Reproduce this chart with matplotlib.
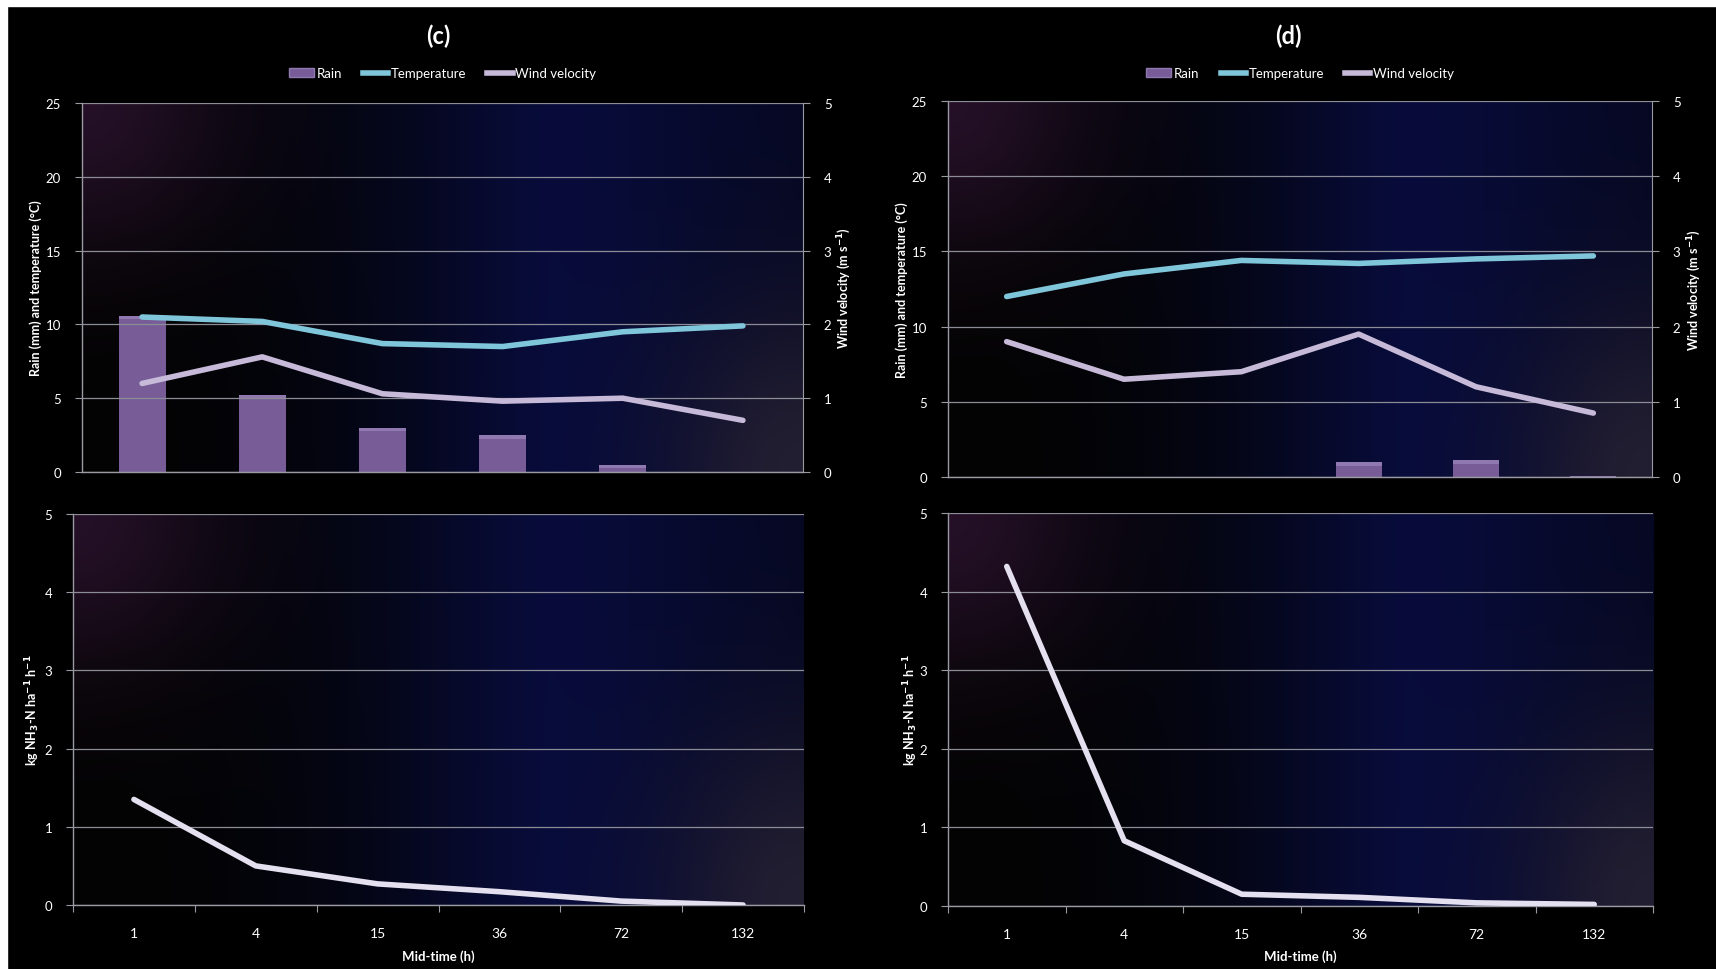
import matplotlib
matplotlib.use("Agg")
import matplotlib.pyplot as plt
from matplotlib.patches import Rectangle, Patch
from matplotlib.lines import Line2D
import numpy as np

# category labels (mid-time, h)
mid_time = ["1", "4", "15", "36", "72", "132"]

# panel (c)
rain_c = [10.6, 5.2, 3.0, 2.5, 0.5, 0.0]
temp_c = [10.5, 10.2, 8.7, 8.5, 9.5, 9.9]
wind_c = [1.2, 1.56, 1.06, 0.96, 1.0, 0.7]
nh3_c = [1.35, 0.5, 0.27, 0.17, 0.05, 0.0]

# panel (d)
rain_d = [0.0, 0.0, 0.0, 1.0, 1.1, 0.05]
temp_d = [12.0, 13.5, 14.4, 14.2, 14.5, 14.7]
wind_d = [1.8, 1.3, 1.4, 1.9, 1.2, 0.85]
nh3_d = [4.32, 0.83, 0.15, 0.11, 0.04, 0.02]

BAR = "#775c98"
BAR_TOP = "#9078b0"
TEMP = "#7fc6da"
WIND = "#c7bad9"
NH3 = "#e4e0f0"
GRID = "#8c8c96"
SPINE = "#9a9aa4"

plt.rcParams["font.family"] = ["Lato", "DejaVu Sans"]
plt.rcParams["mathtext.default"] = "bf"

W, H = 1716, 970
fig = plt.figure(figsize=(W / 100, H / 100), dpi=100, facecolor="black")


def gradient():
    # dark panel fill: purple top-left, navy centre, grey-purple bottom-right
    nx, ny = 200, 120
    x = np.linspace(0, 1, nx)[None, :]
    y = np.linspace(1, 0, ny)[:, None]
    navy = np.array([0.02, 0.035, 0.22])
    f = np.clip((x - 0.05) / 0.6, 0, 1) ** 1.4 * (0.5 + 0.5 * np.exp(-((x - 0.62) ** 2) / 0.08))
    img = f[..., None] * navy[None, None, :] * np.ones((ny, nx, 1))
    tl = np.exp(-((x / 0.2) ** 2 + ((1 - y) / 0.4) ** 2))
    img += tl[..., None] * np.array([0.13, 0.05, 0.14])
    br = np.exp(-(((1 - x) / 0.18) ** 2 + (y / 0.45) ** 2))
    img = img * (1 - 0.6 * br[..., None])
    img += br[..., None] * np.array([0.12, 0.10, 0.13])
    img += 0.012
    return np.clip(img, 0, 1)


BG = gradient()


def style(ax, ymax, step):
    ax.set_facecolor("black")
    ax.imshow(BG, extent=[0, 1, 0, 1], transform=ax.transAxes, aspect="auto",
              zorder=0, interpolation="bilinear")
    ax.set_xlim(-0.5, 5.5)
    ax.set_ylim(0, ymax)
    ax.set_yticks(np.arange(0, ymax + 0.01, step))
    ax.grid(axis="y", color=GRID, lw=0.9, zorder=1)
    ax.set_axisbelow(False)
    for s in ["top", "right"]:
        ax.spines[s].set_visible(False)
    for s in ["left", "bottom"]:
        ax.spines[s].set_color(SPINE)
        ax.spines[s].set_linewidth(1.0)
    ax.tick_params(axis="y", colors=SPINE, labelcolor="white", labelsize=9.5,
                   length=5, direction="out", pad=10)
    ax.tick_params(axis="x", colors=SPINE, labelcolor="white", labelsize=9.5)


def top_panel(rect, rain, temp, wind, title, tx, lab_l, lab_r):
    ax = fig.add_axes(rect)
    style(ax, 25, 5)
    xs = np.arange(len(mid_time))
    ax.bar(xs, rain, width=0.39, color=BAR, zorder=2)
    bevel = [min(r, 0.25) for r in rain]
    ax.bar(xs, bevel, bottom=np.array(rain) - np.array(bevel), width=0.39,
           color=BAR_TOP, zorder=2)
    ax.plot(xs, temp, color=TEMP, lw=4, solid_capstyle="round", zorder=3)
    ax.set_xticks([])
    ax2 = ax.twinx()
    ax2.set_ylim(0, 5)
    ax2.set_yticks(range(0, 6))
    ax2.plot(xs, wind, color=WIND, lw=4, solid_capstyle="round", zorder=3)
    for s in ["top", "left", "bottom"]:
        ax2.spines[s].set_visible(False)
    ax2.spines["right"].set_color(SPINE)
    ax2.tick_params(axis="y", colors=SPINE, labelcolor="white", labelsize=9.5,
                    length=5, pad=10)
    cx = (rect[0] + rect[0] + rect[2]) / 2
    fig.text(tx, 1 - 36 / H, title, color="white", fontsize=17, fontweight="bold",
             ha="center", va="center")
    handles = [Patch(facecolor=BAR, edgecolor=BAR_TOP, lw=1),
               Line2D([], [], color=TEMP, lw=4),
               Line2D([], [], color=WIND, lw=4)]
    fig.legend(handles, ["Rain", "Temperature", "Wind velocity"], loc="center",
               bbox_to_anchor=(cx, 1 - 74 / H), ncol=3, frameon=False,
               labelcolor="white", fontsize=9.5, handlelength=1.9,
               handleheight=0.6, columnspacing=1.6, handletextpad=0.2)
    fig.text(lab_l, rect[1] + rect[3] / 2, "Rain (mm) and temperature (°C)",
             color="white", fontsize=9, fontweight="bold", rotation=90,
             ha="center", va="center")
    fig.text(lab_r, rect[1] + rect[3] / 2, "Wind velocity (m s$^{\\mathbf{-1}}$)",
             color="white", fontsize=9, fontweight="bold", rotation=90,
             ha="center", va="center")


def bottom_panel(rect, nh3, lab_l):
    ax = fig.add_axes(rect)
    style(ax, 5, 1)
    xs = np.arange(len(mid_time))
    ax.plot(xs, nh3, color=NH3, lw=4, solid_capstyle="round", zorder=3)
    ax.set_xticks(np.arange(-0.5, 6, 1))
    ax.set_xticklabels([])
    ax.set_xticks(xs, minor=True)
    ax.set_xticklabels(mid_time, minor=True)
    ax.tick_params(axis="x", which="major", length=5, colors=SPINE)
    ax.tick_params(axis="x", which="minor", length=0, pad=16,
                   labelcolor="white", labelsize=10)
    fig.text(rect[0] + rect[2] / 2, 1 - 957 / H, "Mid-time (h)", color="white",
             fontsize=9.5, fontweight="bold", ha="center", va="center")
    fig.text(lab_l, rect[1] + rect[3] / 2,
             "kg NH$_{\\mathbf{3}}$-N ha$^{\\mathbf{-1}}$ h$^{\\mathbf{-1}}$",
             color="white", fontsize=9, fontweight="bold", rotation=90,
             ha="center", va="center")


def frac(l, t, r, b):
    return [l / W, 1 - b / H, (r - l) / W, (b - t) / H]


top_panel(frac(82, 104, 803, 473), rain_c, temp_c, wind_c, "(c)", 438 / W,
          36 / W, 844 / W)
top_panel(frac(948, 102, 1652, 478), rain_d, temp_d, wind_d, "(d)", 1288 / W,
          902 / W, 1694 / W)
bottom_panel(frac(73, 515, 804, 906), nh3_c, 33 / W)
bottom_panel(frac(948, 514, 1653, 907), nh3_d, 911 / W)

# thin white margin at the top and left edges
fig.patches.append(Rectangle((0, 1 - 7 / H), 1, 7 / H, transform=fig.transFigure,
                             color="white", zorder=10))
fig.patches.append(Rectangle((0, 0), 7 / W, 1, transform=fig.transFigure,
                             color="white", zorder=10))

fig.savefig("out.png", dpi=100, facecolor="black")
